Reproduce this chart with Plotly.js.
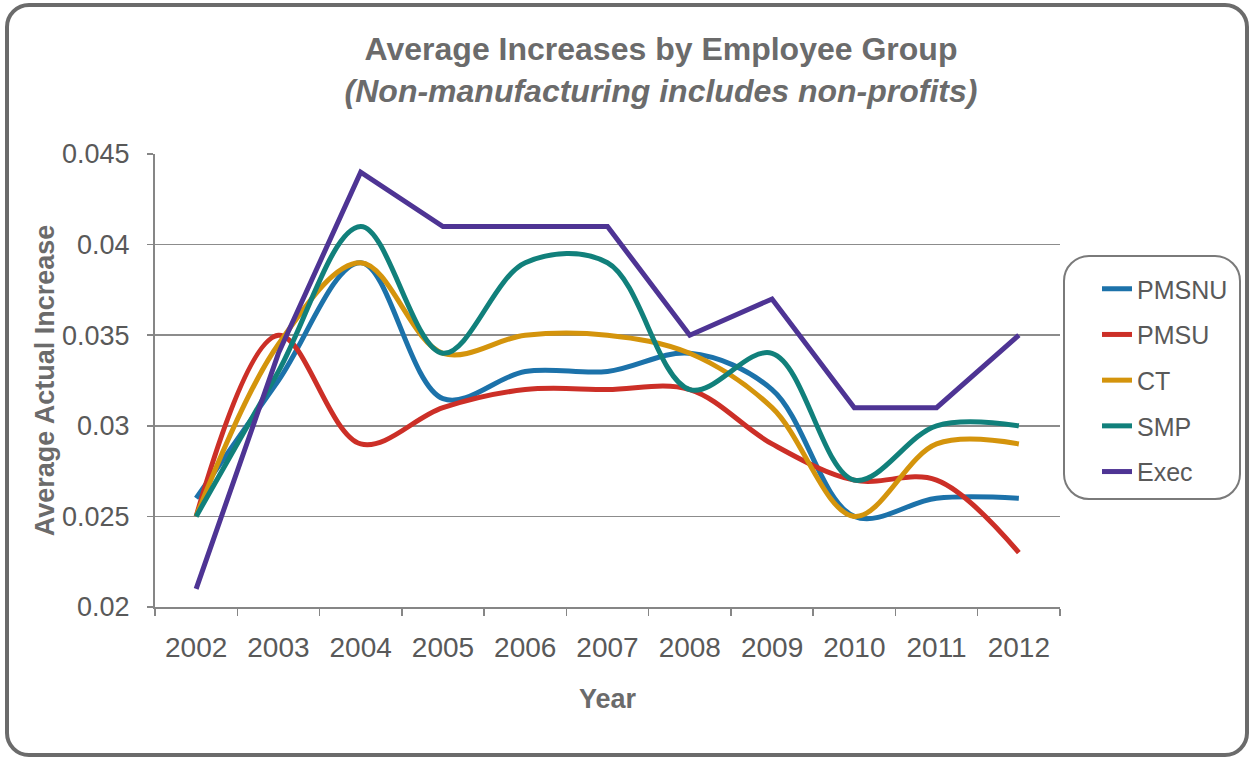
<!DOCTYPE html>
<html>
<head>
<meta charset="utf-8">
<script src="https://cdn.plot.ly/plotly-3.0.1.min.js"></script>
<style>
html,body{margin:0;padding:0;background:#fff;}
#wrap{position:relative;width:1249px;height:757px;}
#chart{position:absolute;left:0;top:0;width:1249px;height:757px;}
#frame{position:absolute;left:5px;top:3px;width:1244px;height:754px;box-sizing:border-box;border:4px solid #6b6b6b;border-radius:24px;pointer-events:none;}
#legbox{position:absolute;left:1063px;top:255px;width:178px;height:245px;box-sizing:border-box;border:2px solid #7a7a7a;border-radius:26px;pointer-events:none;}
</style>
</head>
<body>
<div id="wrap">
<div id="chart"></div>
<div id="frame"></div>
<div id="legbox"></div>
</div>
<script>
var years = ['2002','2003','2004','2005','2006','2007','2008','2009','2010','2011','2012'];
var PMSNU = [0.026, 0.0325, 0.039, 0.0315, 0.033, 0.033, 0.034, 0.032, 0.025, 0.026, 0.026];
var PMSU  = [0.025, 0.035, 0.029, 0.031, 0.032, 0.032, 0.032, 0.029, 0.027, 0.027, 0.023];
var CT    = [0.025, 0.0345, 0.039, 0.034, 0.035, 0.035, 0.034, 0.031, 0.025, 0.029, 0.029];
var SMP   = [0.025, 0.033, 0.041, 0.034, 0.039, 0.039, 0.032, 0.034, 0.027, 0.030, 0.030];
var Exec  = [0.021, 0.034, 0.044, 0.041, 0.041, 0.041, 0.035, 0.037, 0.031, 0.031, 0.035];
var seriesNames = ['PMSNU','PMSU','CT','SMP','Exec'];
var yTickVals = [0.02, 0.025, 0.03, 0.035, 0.04, 0.045];
var yTickText = ['0.02','0.025','0.03','0.035','0.04','0.045'];

var seriesData = [PMSNU, PMSU, CT, SMP, Exec];
var colors = ['#1c72aa','#cc2f27','#d4940c','#11807b','#4e3494'];
var shapes = ['spline','spline','spline','spline','linear'];

var traces = seriesData.map(function(vals, i){
  return {
    x: years, y: vals, name: seriesNames[i], type: 'scatter', mode: 'lines',
    legendgroup: 'g' + i,
    line: {color: colors[i], width: 5, shape: shapes[i], smoothing: 1}
  };
});

var gray = '#6b6b6b';
var layout = {
  width: 1249, height: 757,
  margin: {l: 155, r: 189, t: 154, b: 150},
  paper_bgcolor: '#ffffff', plot_bgcolor: '#ffffff',
  font: {family: 'Liberation Sans, Arial, sans-serif', color: '#595959'},
  title: {
    text: '<b>Average Increases by Employee Group</b><br><b><i>(Non-manufacturing includes non-profits)</i></b>',
    x: 661/1249, xref: 'container', xanchor: 'center', y: 1 - 60/757, yref: 'container', yanchor: 'top',
    font: {size: 32, color: gray, family: 'Liberation Sans, Arial, sans-serif'}
  },
  xaxis: {
    type: 'category', range: [-0.5, 10.5],
    showline: true, linecolor: '#868686', linewidth: 2,
    ticks: 'outside', ticklen: 7, tickcolor: '#868686', tickwidth: 1.5,
    tickson: 'boundaries', showgrid: false, zeroline: false,
    ticklabelstandoff: 14,
    tickfont: {size: 28, color: '#595959'},
    title: {text: '<b>Year</b>', font: {size: 27, color: gray}, standoff: 28}
  },
  yaxis: {
    range: [0.02, 0.045], tickvals: yTickVals, ticktext: yTickText,
    showline: true, linecolor: '#868686', linewidth: 2,
    ticks: 'outside', ticklen: 6, tickcolor: '#868686', tickwidth: 1.5,
    showgrid: true, gridcolor: '#8c8c8c', gridwidth: 1.5, zeroline: false,
    ticklabelstandoff: 12,
    tickfont: {size: 27, color: '#595959'},
    title: {text: '<b>Average Actual Increase</b>', font: {size: 27, color: gray}, standoff: 0}
  },
  showlegend: true,
  legend: {
    x: 1097/1249, xref: 'container', y: 1 - 266/757, yref: 'container',
    xanchor: 'left', yanchor: 'top',
    font: {size: 25, color: '#595959'},
    bgcolor: 'rgba(0,0,0,0)', borderwidth: 0,
    tracegroupgap: 10.2, traceorder: 'grouped'
  }
};

Plotly.newPlot('chart', traces, layout, {displayModeBar: false, staticPlot: true});
</script>
</body>
</html>
